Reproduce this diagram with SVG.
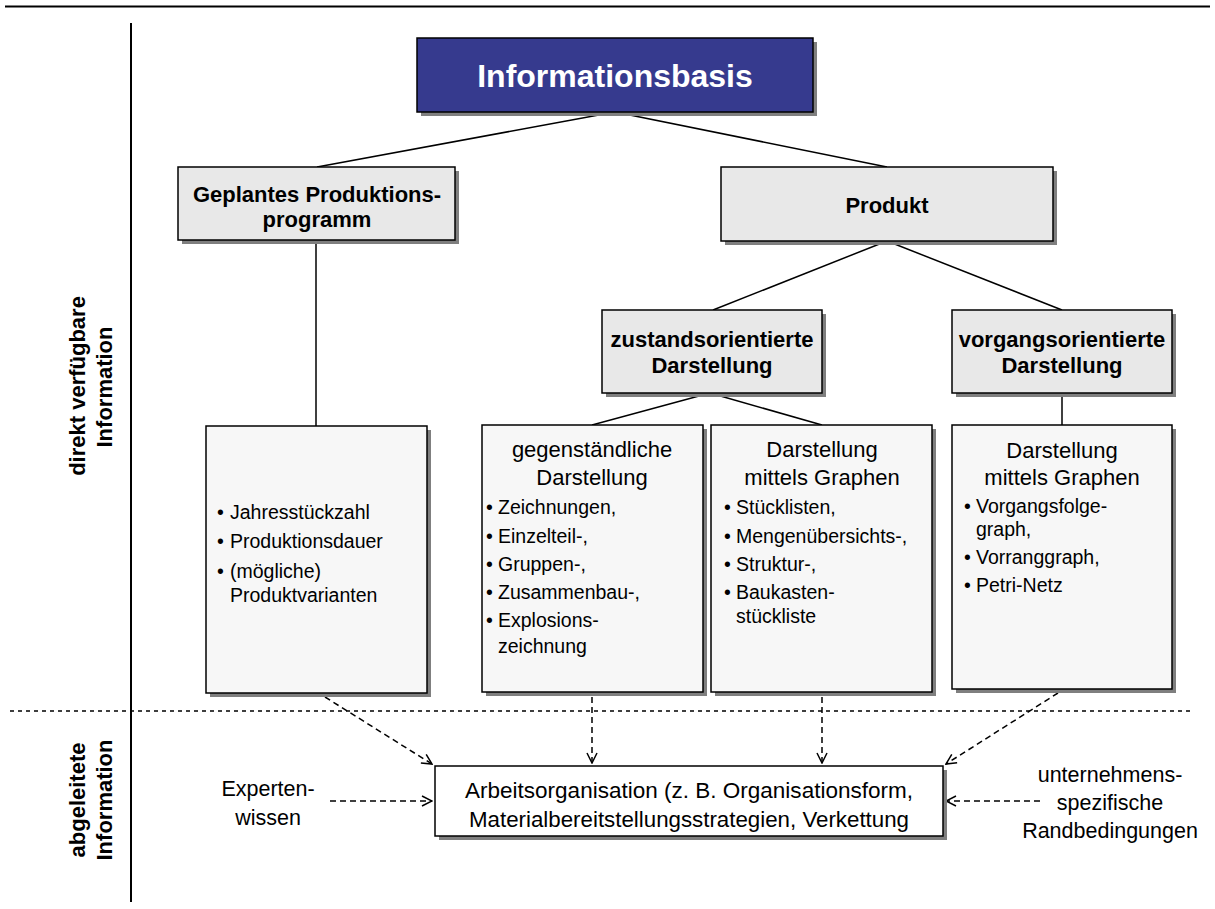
<svg xmlns="http://www.w3.org/2000/svg" width="1215" height="909" viewBox="0 0 1215 909">
  <defs>
    <marker id="open-arrow" viewBox="0 0 12 12" refX="11" refY="6" markerWidth="12" markerHeight="12" markerUnits="userSpaceOnUse" orient="auto">
      <path d="M1,1 L11,6 L1,11" fill="none" stroke="#000" stroke-width="1.5"/>
    </marker>
  </defs>
  <style>
    text { font-family: "Liberation Sans", Arial, Helvetica, sans-serif; fill: #000; }
    .shadow { fill: #7f7f7f; }
    .box { stroke: #000; stroke-width: 1.5; }
    .blue { fill: #363a8e; }
    .head { fill: #e8e8e8; }
    .list { fill: #f7f7f7; }
    .plain { fill: #ffffff; }
    .title { font-size: 32px; font-weight: bold; fill: #ffffff; text-anchor: middle; }
    .bold { font-size: 22px; font-weight: bold; text-anchor: middle; }
    .sub { font-size: 22px; text-anchor: middle; }
    .item { font-size: 19.5px; }
    .side { font-size: 22px; font-weight: bold; text-anchor: middle; }
    .note { font-size: 21.5px; text-anchor: middle; }
    .tree { stroke: #000; stroke-width: 1.5; fill: none; }
    .flow { stroke: #000; stroke-width: 1.5; fill: none; stroke-dasharray: 6 4; marker-end: url(#open-arrow); }
    .rule { stroke: #000; stroke-width: 2; fill: none; }
    .divider { stroke: #000; stroke-width: 1.5; fill: none; stroke-dasharray: 4 4; }
  </style>

  <!-- frame lines -->
  <g id="frame">
    <line class="rule" x1="5" y1="6.5" x2="1210" y2="6.5"/>
    <line class="rule" x1="131" y1="23" x2="131" y2="902"/>
    <line class="divider" x1="10" y1="711" x2="1190" y2="711"/>
  </g>

  <!-- side labels -->
  <g id="label-direct">
    <text class="side" transform="translate(85,386) rotate(-90)">direkt verfügbare</text>
    <text class="side" transform="translate(112,387) rotate(-90)">Information</text>
  </g>
  <g id="label-derived">
    <text class="side" transform="translate(85,800) rotate(-90)">abgeleitete</text>
    <text class="side" transform="translate(112,800) rotate(-90)">Information</text>
  </g>

  <!-- tree and flow connectors -->
  <g id="connectors">
    <line class="tree" x1="615" y1="112" x2="317" y2="167"/>
    <line class="tree" x1="615" y1="112" x2="887" y2="167"/>
    <line class="tree" x1="316" y1="240" x2="316" y2="426"/>
    <line class="tree" x1="887" y1="241" x2="713" y2="310"/>
    <line class="tree" x1="887" y1="241" x2="1062" y2="310"/>
    <line class="tree" x1="710" y1="393" x2="592" y2="425"/>
    <line class="tree" x1="710" y1="393" x2="822" y2="425"/>
    <line class="tree" x1="1062" y1="393" x2="1062" y2="425"/>

    <line class="flow" x1="325" y1="697" x2="432" y2="764"/>
    <line class="flow" x1="592" y1="697" x2="592" y2="763"/>
    <line class="flow" x1="822" y1="697" x2="822" y2="763"/>
    <line class="flow" x1="1058" y1="693" x2="946" y2="764"/>
    <line class="flow" x1="330" y1="801" x2="432" y2="801"/>
    <line class="flow" x1="1040" y1="801" x2="946" y2="801"/>
  </g>

  <!-- root -->
  <g id="informationsbasis">
    <rect class="shadow" x="421" y="42" width="396" height="74"/>
    <rect class="box blue" x="417" y="38" width="396" height="74"/>
    <text class="title" x="615" y="87">Informationsbasis</text>
  </g>

  <g id="produktionsprogramm">
    <rect class="shadow" x="182" y="171" width="277" height="73"/>
    <rect class="box head" x="178" y="167" width="277" height="73"/>
    <text class="bold" x="317" y="202">Geplantes Produktions-</text>
    <text class="bold" x="317" y="227">programm</text>
  </g>

  <g id="produkt">
    <rect class="shadow" x="725" y="171" width="332" height="74"/>
    <rect class="box head" x="721" y="167" width="332" height="74"/>
    <text class="bold" x="887" y="213">Produkt</text>
  </g>

  <g id="zustandsorientiert">
    <rect class="shadow" x="606" y="314" width="220" height="83"/>
    <rect class="box head" x="602" y="310" width="220" height="83"/>
    <text class="bold" x="712" y="347">zustandsorientierte</text>
    <text class="bold" x="712" y="373">Darstellung</text>
  </g>

  <g id="vorgangsorientiert">
    <rect class="shadow" x="956" y="314" width="220" height="83"/>
    <rect class="box head" x="952" y="310" width="220" height="83"/>
    <text class="bold" x="1062" y="347">vorgangsorientierte</text>
    <text class="bold" x="1062" y="373">Darstellung</text>
  </g>

  <!-- detail boxes -->
  <g id="programmdaten">
    <rect class="shadow" x="210" y="430" width="221" height="267"/>
    <rect class="box list" x="206" y="426" width="221" height="267"/>
    <text class="item" y="519"><tspan x="217">•</tspan><tspan x="230">Jahresstückzahl</tspan></text>
    <text class="item" y="548"><tspan x="217">•</tspan><tspan x="230">Produktionsdauer</tspan></text>
    <text class="item" y="578"><tspan x="217">•</tspan><tspan x="230">(mögliche)</tspan></text>
    <text class="item" x="230" y="602">Produktvarianten</text>
  </g>

  <g id="gegenstaendlich">
    <rect class="shadow" x="486" y="429" width="221" height="267"/>
    <rect class="box list" x="482" y="425" width="221" height="267"/>
    <text class="sub" x="592" y="457">gegenständliche</text>
    <text class="sub" x="592" y="485">Darstellung</text>
    <text class="item" y="514"><tspan x="486">•</tspan><tspan x="498">Zeichnungen,</tspan></text>
    <text class="item" y="543"><tspan x="486">•</tspan><tspan x="498">Einzelteil-,</tspan></text>
    <text class="item" y="571"><tspan x="486">•</tspan><tspan x="498">Gruppen-,</tspan></text>
    <text class="item" y="599"><tspan x="486">•</tspan><tspan x="498">Zusammenbau-,</tspan></text>
    <text class="item" y="627"><tspan x="486">•</tspan><tspan x="498">Explosions-</tspan></text>
    <text class="item" x="498" y="653">zeichnung</text>
  </g>

  <g id="graphen-zustand">
    <rect class="shadow" x="715" y="429" width="221" height="267"/>
    <rect class="box list" x="711" y="425" width="221" height="267"/>
    <text class="sub" x="822" y="457">Darstellung</text>
    <text class="sub" x="822" y="485">mittels Graphen</text>
    <text class="item" y="514"><tspan x="724">•</tspan><tspan x="736">Stücklisten,</tspan></text>
    <text class="item" y="543"><tspan x="724">•</tspan><tspan x="736">Mengenübersichts-,</tspan></text>
    <text class="item" y="571"><tspan x="724">•</tspan><tspan x="736">Struktur-,</tspan></text>
    <text class="item" y="599"><tspan x="724">•</tspan><tspan x="736">Baukasten-</tspan></text>
    <text class="item" x="736" y="623">stückliste</text>
  </g>

  <g id="graphen-vorgang">
    <rect class="shadow" x="956" y="429" width="220" height="264"/>
    <rect class="box list" x="952" y="425" width="220" height="264"/>
    <text class="sub" x="1062" y="458">Darstellung</text>
    <text class="sub" x="1062" y="485">mittels Graphen</text>
    <text class="item" y="513"><tspan x="964">•</tspan><tspan x="976">Vorgangsfolge-</tspan></text>
    <text class="item" x="976" y="536">graph,</text>
    <text class="item" y="564"><tspan x="964">•</tspan><tspan x="976">Vorranggraph,</tspan></text>
    <text class="item" y="592"><tspan x="964">•</tspan><tspan x="976">Petri-Netz</tspan></text>
  </g>

  <!-- derived information -->
  <g id="arbeitsorganisation">
    <rect class="shadow" x="439" y="770" width="508" height="70"/>
    <rect class="box plain" x="435" y="766" width="508" height="70"/>
    <text class="note" x="689" y="798" textLength="448" lengthAdjust="spacingAndGlyphs">Arbeitsorganisation (z. B. Organisationsform,</text>
    <text class="note" x="689" y="827" textLength="440" lengthAdjust="spacingAndGlyphs">Materialbereitstellungsstrategien, Verkettung</text>
  </g>

  <g id="expertenwissen">
    <text class="note" x="268" y="796">Experten-</text>
    <text class="note" x="268" y="825">wissen</text>
  </g>

  <g id="randbedingungen">
    <text class="note" x="1110" y="782">unternehmens-</text>
    <text class="note" x="1110" y="810">spezifische</text>
    <text class="note" x="1110" y="838">Randbedingungen</text>
  </g>
</svg>
